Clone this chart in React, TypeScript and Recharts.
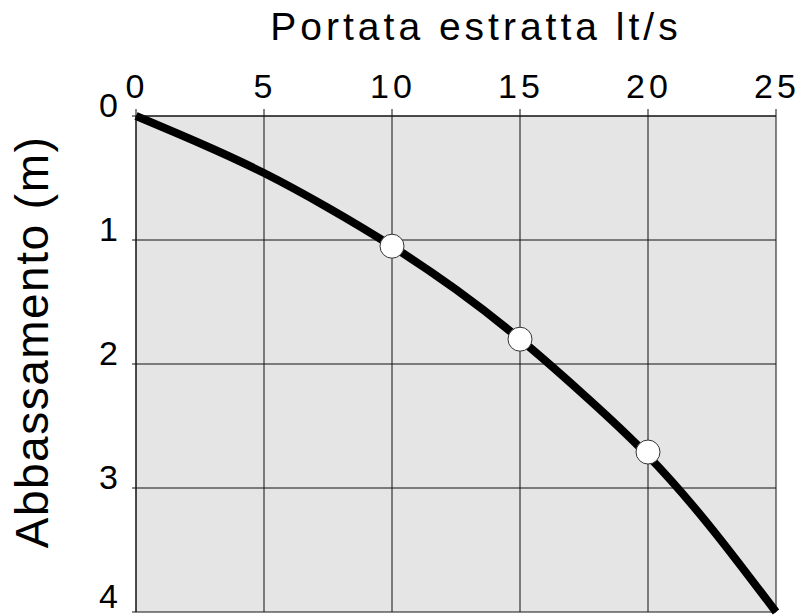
import React from 'react';
import {
  ComposedChart,
  Line,
  Scatter,
  XAxis,
  YAxis,
  CartesianGrid,
} from 'recharts';

// Portata estratta (lt/s) vs abbassamento (m)
const portata = [0, 2.5, 5, 7.5, 10, 12.5, 15, 17.5, 20, 22.5, 25];
const abbassamento = [0, 0.22, 0.46, 0.74, 1.05, 1.4, 1.8, 2.25, 2.74, 3.33, 4.0];

// measured points (white markers)
const puntiPortata = [10, 15, 20];
const puntiAbbassamento = [1.05, 1.8, 2.71];

const xTicks = [0, 5, 10, 15, 20, 25];
const yTicks = [0, 1, 2, 3, 4];

const FONT = "'Liberation Sans', Arial, Helvetica, sans-serif";

const curveData = portata.map((x, i) => ({ x, y: abbassamento[i] }));
const pointData = puntiPortata.map((x, i) => ({ x, y: puntiAbbassamento[i] }));

const XTick = (props: any) => {
  const { x, y, payload } = props;
  return (
    <text
      x={x + 1}
      y={y}
      textAnchor="middle"
      fontFamily={FONT}
      fontSize={34}
      letterSpacing={4}
      fill="#000"
    >
      {payload.value}
    </text>
  );
};

const YTick = (props: any) => {
  const { x, y, payload } = props;
  return (
    <text x={x} y={y + 1} textAnchor="end" fontFamily={FONT} fontSize={34} fill="#000">
      {payload.value}
    </text>
  );
};

const TitleLabel = (props: any) => {
  const vb = props.viewBox || { x: 136, width: 640 };
  return (
    <text
      x={vb.x + vb.width / 2 + 20}
      y={40}
      textAnchor="middle"
      fontFamily={FONT}
      fontSize={39}
      letterSpacing={4}
      fill="#000"
    >
      Portata estratta lt/s
    </text>
  );
};

const YTitleLabel = () => (
  <text
    x={48}
    y={342}
    transform="rotate(-90, 48, 342)"
    textAnchor="middle"
    fontFamily={FONT}
    fontSize={46}
    letterSpacing={1.5}
    fill="#000"
  >
    Abbassamento (m)
  </text>
);

const Marker = (props: any) => (
  <circle cx={props.cx} cy={props.cy} r={12} fill="#fff" stroke="#333" strokeWidth={1} />
);

export default function App() {
  return (
    <div>
      <style>{'body{margin:0;background:#fff}'}</style>
      <ComposedChart
        width={801}
        height={616}
        margin={{ top: 60, right: 25, bottom: 4, left: 0 }}
      >
        <CartesianGrid stroke="#111" strokeWidth={1} fill="#e5e5e5" fillOpacity={1} />
        <XAxis
          type="number"
          dataKey="x"
          orientation="top"
          domain={[0, 25]}
          ticks={xTicks}
          height={56}
          tickSize={7}
          tickMargin={11}
          tick={<XTick />}
          axisLine={{ stroke: '#111' }}
          tickLine={{ stroke: '#111' }}
          label={<TitleLabel />}
        />
        <YAxis
          type="number"
          dataKey="y"
          domain={[0, 4]}
          reversed
          ticks={yTicks}
          width={136}
          tickSize={4}
          tickMargin={14}
          tick={<YTick />}
          axisLine={{ stroke: '#111' }}
          tickLine={{ stroke: '#111' }}
          label={<YTitleLabel />}
        />
        <Line
          data={curveData}
          dataKey="y"
          type="natural"
          stroke="#000"
          strokeWidth={8}
          dot={false}
          activeDot={false}
          isAnimationActive={false}
        />
        <Scatter
          data={pointData}
          dataKey="y"
          shape={<Marker />}
          isAnimationActive={false}
        />
      </ComposedChart>
    </div>
  );
}
